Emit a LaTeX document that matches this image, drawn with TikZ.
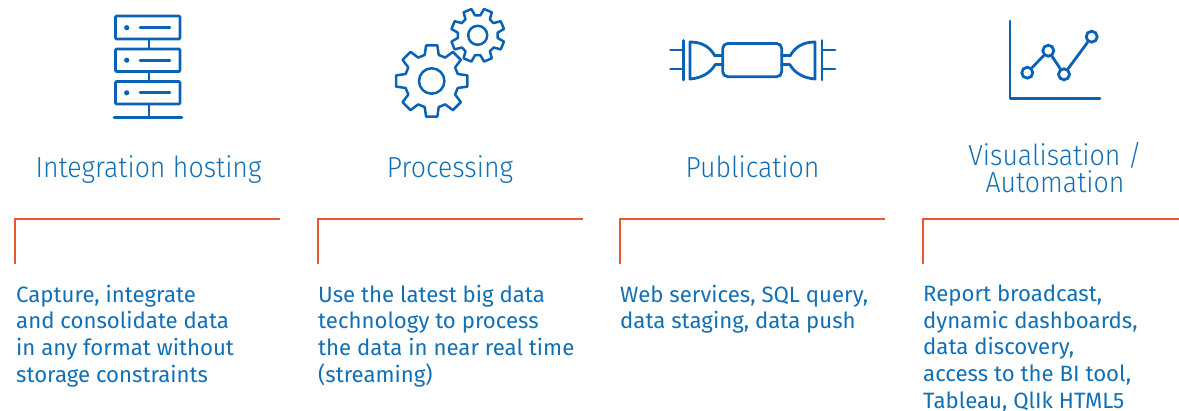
\documentclass[tikz,border=0pt]{standalone}
\usepackage{fontspec}
\setmainfont{Fira Sans}
\newfontfamily\lightfont{Fira Sans Light}[FakeStretch=0.92]
\definecolor{iconblue}{HTML}{0B62B5}
\definecolor{textblue}{HTML}{1170B5}
\definecolor{rulered}{HTML}{E9582F}
\tikzset{
  icon/.style={draw=iconblue,line width=2.8pt,line join=round,line cap=round},
  rackbox/.style={icon,rounded corners=1pt},
  dotnode/.style={circle,draw=iconblue,line width=2.8pt,fill=white,minimum size=11pt,inner sep=0pt},
  rulebar/.style={draw=rulered,line width=2pt},
  titletext/.style={text=textblue,font=\lightfont\fontsize{29}{27}\selectfont,align=center,inner sep=0pt},
  bodytext/.style={text=textblue,font=\fontsize{22.2}{26.8}\selectfont,align=left,anchor=north west,inner sep=0pt},
}
\newcommand{\gearpath}[5]{%
  \begin{scope}[shift={(#1,#2)}]
    \draw[icon,line width=2.5pt,x=1pt,y=1pt] (#5-9:#3)
      \foreach \ang in {0,45,...,315} {
        -- ({#5+\ang-9}:#3) -- ({#5+\ang+9}:#3) -- ({#5+\ang+15}:#4) -- ({#5+\ang+30}:#4)
      } -- cycle;
  \end{scope}}
\begin{document}
\begin{tikzpicture}[x=1pt,y=-1pt]
\useasboundingbox (0,0) rectangle (1179,410);
% --- rack icon
\draw[rackbox] (115.5,16) rectangle (180,39);
\draw[rackbox] (115.5,49) rectangle (180,71.5);
\draw[rackbox] (115.5,81.5) rectangle (180,104);
\draw[icon] (149,39) -- (149,49) (149,71.5) -- (149,81.5) (149,104) -- (149,117.5);
\draw[icon] (114,117.5) -- (182,117.5);
\foreach \yy in {27.7,60.2,92.8} {
  \fill[iconblue] (126.7,\yy) circle (2.6pt);
  \draw[icon] (140,\yy) -- (170,\yy);
}
% --- gears
\gearpath{431.7}{81}{36}{27}{90}
\draw[icon,line width=2.5pt] (431.7,81) circle (12.7pt);
\gearpath{477.7}{35.3}{27}{20}{67.5}
\draw[icon,line width=2.5pt] (477.7,35.3) circle (9.5pt);
% --- connector icon
\draw[icon] (683.3,40.5) -- (683.3,80) (670.5,50) -- (683.3,50) (670.5,69) -- (683.3,69);
\draw[icon] (715,56) .. controls (710,47) and (702,42) .. (690,42) -- (690,79) .. controls (702,78) and (710,73) .. (715,65);
\draw[icon] (715,55.7) -- (722.7,55.7) (715,64.5) -- (722.7,64.5);
\draw[icon,rounded corners=5pt] (722.7,43.5) rectangle (781.7,76.7);
\draw[icon] (781.7,55.7) -- (790,55.7) (781.7,64.5) -- (790,64.5);
\draw[icon] (790,56) .. controls (795,47) and (803,42) .. (815,42) -- (815,79) .. controls (803,78) and (795,73) .. (790,65);
\draw[icon] (822,40.5) -- (822,80) (822,50) -- (835,50) (822,69) -- (835,69);
% --- chart icon
\coordinate (axt) at (1010,21);
\coordinate (axo) at (1010,98.5);
\coordinate (axr) at (1100,98.5);
\draw[icon] (axt) -- (axo) -- (axr);
\node[dotnode] (p1) at (1027.3,72.7) {};
\node[dotnode] (p2) at (1048.3,50.7) {};
\node[dotnode] (p3) at (1064,74.3) {};
\node[dotnode] (p4) at (1091.7,36.7) {};
\draw[icon] (p1) -- (p2) (p2) -- (p3) (p3) -- (p4);
% --- titles
\node[titletext,anchor=base] (t1) at (148.5,177.5) {Integration hosting};
\node[titletext,anchor=base] (t2) at (450,177.5) {Processing};
\node[titletext,anchor=base] (t3) at (752.5,177.5) {Publication};
\node[titletext] (t4) at (1055,167.5) {Visualisation /\\Automation};
% --- rules
\draw[rulebar] (15,264) -- (15,219) -- (280,219);
\draw[rulebar] (318,264) -- (318,219) -- (583,219);
\draw[rulebar] (620,264) -- (620,219) -- (885,219);
\draw[rulebar] (922.5,264) -- (922.5,219) -- (1179,219);
% --- body text
\node[bodytext] (b1) at (16,284.5) {Capture, integrate\\and consolidate data\\in any format without\\storage constraints};
\node[bodytext] (b2) at (318,284.5) {Use the latest big data\\technology to process\\the data in near real time\\(streaming)};
\node[bodytext] (b3) at (620,284.5) {Web services, SQL query,\\data staging, data push};
\node[bodytext] (b4) at (923,284.5) {Report broadcast,\\dynamic dashboards,\\data discovery,\\access to the BI tool,\\Tableau, QlIk HTML5};
\end{tikzpicture}
\end{document}
